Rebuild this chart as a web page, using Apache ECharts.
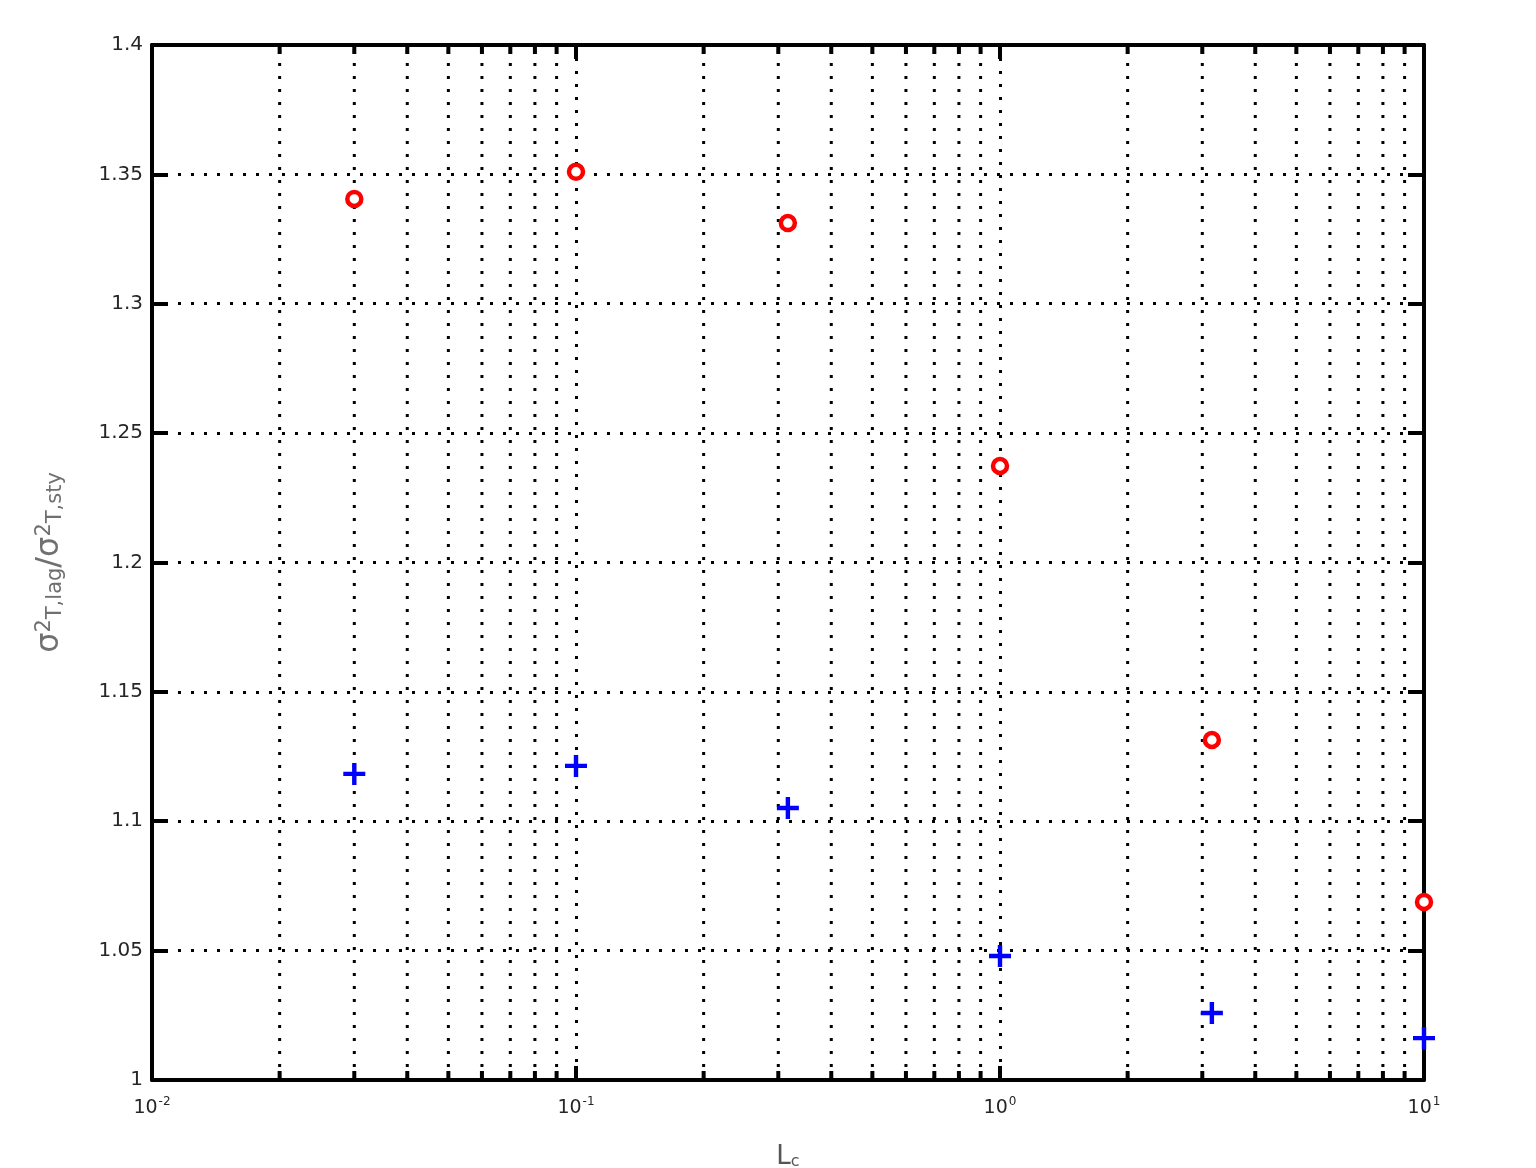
<!DOCTYPE html>
<html>
<head>
<meta charset="utf-8">
<title>Variance ratio vs L_c</title>
<script src="https://cdn.jsdelivr.net/npm/echarts@6/dist/echarts.min.js"></script>
<style>
  html, body { margin: 0; padding: 0; background: #ffffff; }
  #chart { width: 1536px; height: 1168px; }
</style>
</head>
<body>
<div id="chart"></div>
<script>
// Correlation length values (log axis)
const lc = [0.03, 0.1, 0.316, 1, 3.16, 10];
// Ratio series
const ratioCircle = [1.3405, 1.351, 1.3312, 1.2373, 1.1314, 1.0688];
const ratioPlus = [1.1183, 1.1214, 1.1051, 1.0479, 1.0259, 1.0162];
// Axis ranges
const xRange = [0.01, 10];
const yTicks = [1, 1.05, 1.1, 1.15, 1.2, 1.25, 1.3, 1.35, 1.4];
// Minor decade positions (2..9 within each decade)
const minorMultipliers = [2, 3, 4, 5, 6, 7, 8, 9];
const decades = [0.01, 0.1, 1];

const minorX = [];
decades.forEach(d => minorMultipliers.forEach(m => minorX.push([+(d * m).toPrecision(3)])));

const yMin = yTicks[0];
const yMax = yTicks[yTicks.length - 1];
const dotted = { color: '#000', width: 3, type: [3, 10] };
const labelColor = '#262626';
const font = 'DejaVu Sans';

const chart = echarts.init(document.getElementById('chart'), null, { renderer: 'canvas' });

function logLabel(v) {
  const e = Math.round(Math.log10(v));
  return '{b|10}{s|' + e + '}';
}

const xCommon = {
  type: 'log',
  logBase: 10,
  min: xRange[0],
  max: xRange[1],
  axisLine: { show: true, onZero: false, lineStyle: { color: '#000', width: 4 } },
  axisTick: { show: true, inside: true, length: 14, lineStyle: { color: '#000', width: 4 } },
  minorTick: { show: false },
  minorSplitLine: { show: false }
};

const option = {
  backgroundColor: '#ffffff',
  animation: false,
  grid: { left: 152, right: 112, top: 45, bottom: 88, containLabel: false, outerBoundsMode: 'none' },
  xAxis: [
    Object.assign({}, xCommon, {
      position: 'bottom',
      name: '{L|L}{c|c}',
      nameLocation: 'middle',
      nameGap: 64,
      nameTextStyle: {
        rich: {
          L: { fontFamily: font, fontSize: 26, color: '#555' },
          c: { fontFamily: font, fontSize: 16, color: '#555', verticalAlign: 'bottom', lineHeight: 14, padding: [16, 0, 0, 0] }
        }
      },
      axisLabel: {
        margin: 16,
        formatter: logLabel,
        rich: {
          b: { fontFamily: font, fontSize: 19, color: labelColor, lineHeight: 24 },
          s: { fontFamily: font, fontSize: 12, color: labelColor, verticalAlign: 'top', lineHeight: 12, padding: [0, 0, 12, 1] }
        }
      },
      splitLine: { show: true, lineStyle: dotted }
    }),
    Object.assign({}, xCommon, {
      position: 'top',
      axisLabel: { show: false },
      splitLine: { show: false }
    })
  ],
  yAxis: [
    {
      type: 'value',
      position: 'left',
      min: yMin,
      max: yMax,
      interval: 0.05,
      name: '{s|σ}{p|2}{u|T,lag}{s|/σ}{p|2}{u|T,sty}',
      nameLocation: 'middle',
      nameGap: 86,
      nameRotate: 90,
      nameTextStyle: {
        rich: {
          s: { fontFamily: font, fontSize: 32, color: '#707070' },
          p: { fontFamily: font, fontSize: 21, color: '#707070', verticalAlign: 'top', lineHeight: 16, padding: [0, 0, 16, 0] },
          u: { fontFamily: font, fontSize: 21, color: '#707070', verticalAlign: 'bottom', lineHeight: 16, padding: [16, 0, 0, 0] }
        }
      },
      axisLine: { show: true, lineStyle: { color: '#000', width: 4 } },
      axisTick: { show: true, inside: true, length: 16, lineStyle: { color: '#000', width: 4 } },
      axisLabel: { margin: 9, fontFamily: font, fontSize: 20, color: labelColor },
      splitLine: { show: true, lineStyle: dotted }
    },
    {
      type: 'value',
      position: 'right',
      min: yMin,
      max: yMax,
      interval: 0.05,
      axisLine: { show: true, lineStyle: { color: '#000', width: 4 } },
      axisTick: { show: true, inside: true, length: 16, lineStyle: { color: '#000', width: 4 } },
      axisLabel: { show: false },
      splitLine: { show: false }
    }
  ],
  series: [
    {
      // minor log-decade grid lines with inside ticks on the bottom and top edges
      type: 'custom',
      xAxisIndex: 0,
      yAxisIndex: 0,
      silent: true,
      z: 1,
      encode: { x: 0 },
      data: minorX,
      renderItem: function (params, api) {
        const v = api.value(0);
        const b = api.coord([v, yMin]);
        const t = api.coord([v, yMax]);
        return {
          type: 'group',
          children: [
            { type: 'line', shape: { x1: b[0], y1: b[1], x2: t[0], y2: t[1] }, style: { stroke: '#000', lineWidth: 3, lineDash: [3, 10] } },
            { type: 'line', shape: { x1: b[0], y1: b[1], x2: b[0], y2: b[1] - 9 }, style: { stroke: '#000', lineWidth: 4 } },
            { type: 'line', shape: { x1: t[0], y1: t[1], x2: t[0], y2: t[1] + 9 }, style: { stroke: '#000', lineWidth: 4 } }
          ]
        };
      }
    },
    {
      type: 'scatter',
      xAxisIndex: 0,
      yAxisIndex: 0,
      z: 5,
      symbol: 'circle',
      symbolSize: 14,
      itemStyle: { color: '#ffffff', borderColor: '#ff0000', borderWidth: 4.5, opacity: 1 },
      data: lc.map((x, i) => [x, ratioCircle[i]])
    },
    {
      type: 'scatter',
      xAxisIndex: 0,
      yAxisIndex: 0,
      z: 5,
      symbol: 'path://M4,0h2v4h4v2h-4v4h-2v-4h-4v-2h4z',
      symbolSize: 22,
      itemStyle: { color: '#0000ff', opacity: 1 },
      data: lc.map((x, i) => [x, ratioPlus[i]])
    }
  ]
};

chart.setOption(option);
</script>
</body>
</html>
